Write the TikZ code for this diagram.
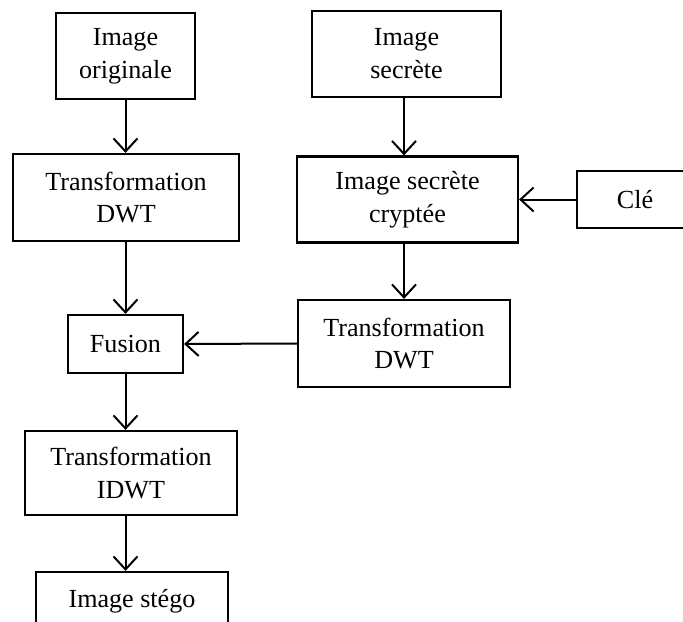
\documentclass[tikz,border=0pt]{standalone}
\usepackage{fontspec}
\setmainfont{Liberation Serif}
\usetikzlibrary{arrows.meta}
\begin{document}
\begin{tikzpicture}[x=1bp,y=-1bp,
  box/.style={draw, line width=2.2bp, inner sep=0pt, align=center,
    font=\fontsize{26.2}{33}\selectfont},
  arr/.style={line width=2bp, -{Straight Barb[length=13bp,width=24bp,line width=2bp]}}]
\useasboundingbox (0,0) rectangle (683,622);
\node[box, minimum width=139bp, minimum height=86bp] (orig) at (125.5,56) {Image\\originale};
\node[box, minimum width=189bp, minimum height=86bp] (secr) at (406.5,54) {Image\\secrète};
\node[box, minimum width=226bp, minimum height=87bp] (dwta) at (126,197.5) {Transformation\\DWT};
\node[box, minimum width=221bp, minimum height=86bp] (cryp) at (407.5,199.5) {Image secrète\\cryptée};
\node[box, minimum width=116bp, minimum height=57bp] (cle) at (635,199.5) {Clé};
\node[box, minimum width=115bp, minimum height=58bp] (fus) at (125.5,344) {Fusion};
\node[box, minimum width=212bp, minimum height=87bp] (dwtb) at (404,343.5) {Transformation\\DWT};
\node[box, minimum width=212bp, minimum height=84bp] (idwt) at (131,473) {Transformation\\IDWT};
\node[box, minimum width=192bp, minimum height=58bp] (steg) at (132,601) {Image stégo};
\draw[arr] (orig.south) -- (orig.south |- dwta.north);
\draw[arr] (dwta.south -| fus.north) -- (fus.north);
\draw[arr] (fus.south) -- (fus.south |- idwt.north);
\draw[arr] (idwt.south -| fus.south) -- (steg.north -| fus.south);
\draw[arr] (secr.south -| dwtb.north) -- (cryp.north -| dwtb.north);
\draw[arr] (cryp.south -| dwtb.north) -- (dwtb.north);
\draw[arr] (cle.west) -- (cryp.east);
\draw[arr] (dwtb.west) -- (fus.east);
\end{tikzpicture}
\end{document}
